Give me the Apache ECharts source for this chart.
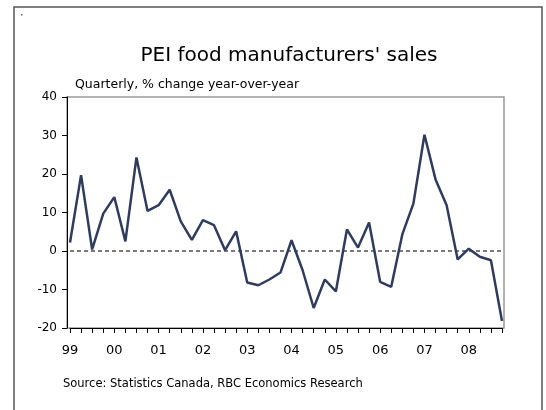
<!DOCTYPE html>
<html>
<head>
<meta charset="utf-8">
<script src="https://cdn.jsdelivr.net/npm/echarts@6/dist/echarts.min.js"></script>
<style>
  html, body { margin: 0; padding: 0; background: #fff; }
  #chart { width: 546px; height: 410px; }
</style>
</head>
<body>
<div id="chart"></div>
<script>
// Quarterly year-over-year % change in PEI food manufacturers' sales, 1999Q1 to 2008Q4
const years = ['1999', '2000', '2001', '2002', '2003', '2004', '2005', '2006', '2007', '2008'];
const yearLabels = ['99', '00', '01', '02', '03', '04', '05', '06', '07', '08'];
const quarterNames = ['Q1', 'Q2', 'Q3', 'Q4'];
const salesChange = [
  2.2, 19.7, 0.4, 9.7,      // 1999
  14.0, 2.5, 24.3, 10.4,    // 2000
  11.9, 15.9, 7.7, 2.9,     // 2001
  8.0, 6.7, 0.2, 5.1,       // 2002
  -8.2, -8.9, -7.4, -5.6,   // 2003
  2.8, -5.0, -14.8, -7.4,   // 2004
  -10.5, 5.6, 0.9, 7.4,     // 2005
  -8.0, -9.3, 4.3, 12.3,    // 2006
  30.2, 18.6, 11.9, -2.2,   // 2007
  0.6, -1.5, -2.4, -18.2    // 2008
];
const yTickValues = [-20, -10, 0, 10, 20, 30, 40];

const quarters = [];
years.forEach(y => quarterNames.forEach(q => quarters.push(y + ' ' + q)));

const FONT = 'DejaVu Sans';
const chart = echarts.init(document.getElementById('chart'), null, { renderer: 'canvas' });

chart.setOption({
  animation: false,
  backgroundColor: '#fff',
  grid: { left: 70, right: 44, top: 97, bottom: 82, containLabel: false },
  xAxis: {
    type: 'category',
    data: quarters,
    boundaryGap: false,
    axisLine: { onZero: false, lineStyle: { color: '#000', width: 1 } },
    axisTick: { show: true, interval: 0, length: 5, lineStyle: { color: '#000' } },
    axisLabel: {
      interval: 3,
      margin: 16,
      color: '#000',
      fontFamily: FONT,
      fontSize: 13,
      formatter: (v, i) => yearLabels[Math.floor(i / 4)]
    },
    splitLine: { show: false }
  },
  yAxis: {
    type: 'value',
    min: yTickValues[0],
    max: yTickValues[yTickValues.length - 1],
    interval: 10,
    offset: 3,
    axisLine: { show: true, lineStyle: { color: '#000', width: 1 } },
    axisTick: { show: true, length: 5, lineStyle: { color: '#000' } },
    axisLabel: { color: '#000', fontFamily: FONT, fontSize: 12, margin: 10 },
    splitLine: { show: false }
  },
  series: [{
    type: 'line',
    data: salesChange,
    symbol: 'none',
    lineStyle: { color: '#2f3c5c', width: 2.5 },
    z: 5,
    markLine: {
      silent: true,
      symbol: 'none',
      label: { show: false },
      lineStyle: { color: '#7a7a7a', width: 2, type: [4, 3] },
      data: [{ yAxis: 0 }],
      z: 3
    }
  }],
  graphic: [
    // outer frame
    { type: 'rect', z: -10, shape: { x: 14, y: 7, width: 528, height: 420 },
      style: { fill: 'none', stroke: '#555', lineWidth: 1.5 } },
    // plot box
    { type: 'rect', z: -5, shape: { x: 67, y: 97, width: 437, height: 231 },
      style: { fill: 'none', stroke: '#999', lineWidth: 1.5 } },
    { type: 'rect', shape: { x: 21, y: 14, width: 1.5, height: 1.5 }, style: { fill: '#666' } },
    { type: 'text', x: 289, y: 56,
      style: { text: "PEI food manufacturers' sales", font: '20px "' + FONT + '"',
               fill: '#000', textAlign: 'center', textVerticalAlign: 'middle' } },
    { type: 'text', x: 75, y: 85,
      style: { text: 'Quarterly, % change year-over-year', font: '12.5px "' + FONT + '"',
               fill: '#000', textAlign: 'left', textVerticalAlign: 'middle' } },
    { type: 'text', x: 63, y: 384,
      style: { text: 'Source: Statistics Canada, RBC Economics Research', font: '11.5px "' + FONT + '"',
               fill: '#000', textAlign: 'left', textVerticalAlign: 'middle' } }
  ]
});
</script>
</body>
</html>
